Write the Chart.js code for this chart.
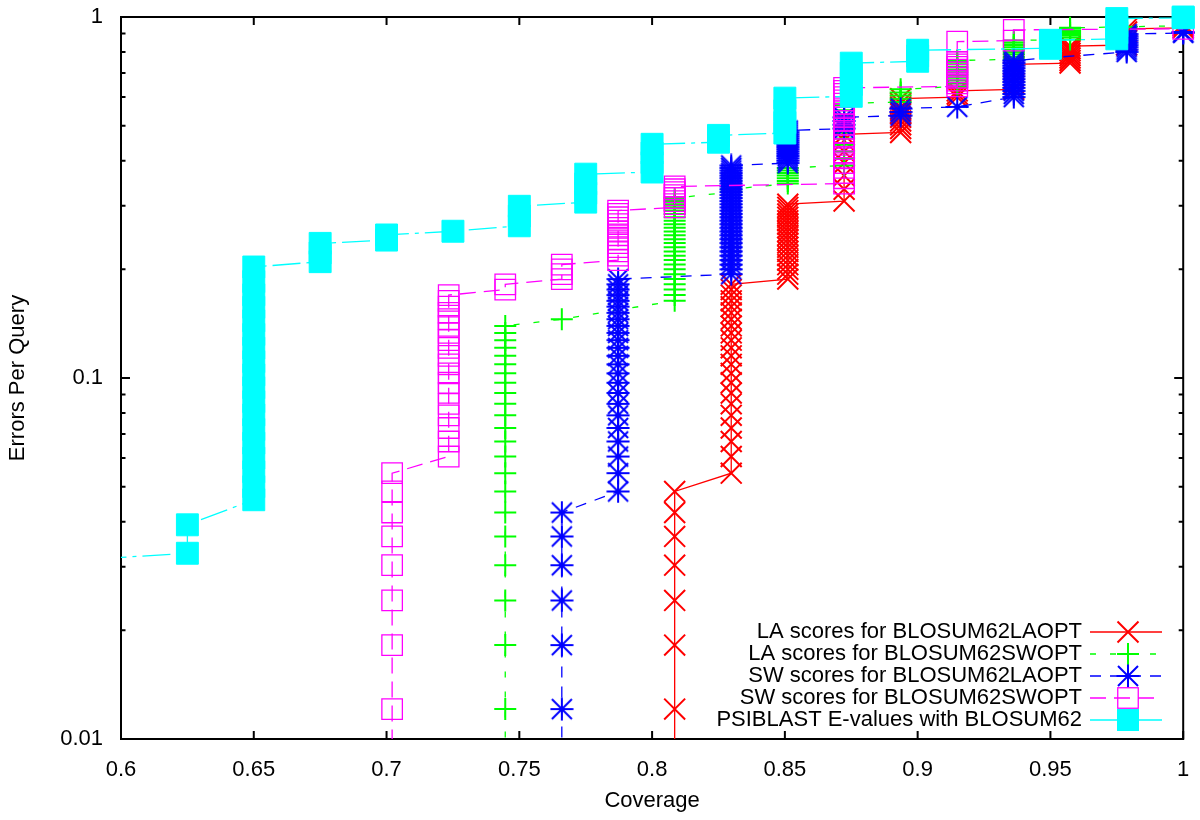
<!DOCTYPE html>
<html lang="en">
<head>
<meta charset="UTF-8">
<title>Errors Per Query vs Coverage</title>
<script src="https://cdn.jsdelivr.net/npm/chart.js"></script>
<style>
  body { margin: 0; background: #fff; }
  canvas { display: block; }
</style>
</head>
<body>
<canvas id="coverageChart" width="1200" height="820"></canvas>
<script>
// axis labels
const xTickLabels = ['0.6', '0.65', '0.7', '0.75', '0.8', '0.85', '0.9', '0.95', '1'];
const yMajorTicks = [0.01, 0.1, 1];
const yTickLabels = ['0.01', '0.1', '1'];

const seriesNames = [
  'LA scores for BLOSUM62LAOPT',
  'LA scores for BLOSUM62SWOPT',
  'SW scores for BLOSUM62LAOPT',
  'SW scores for BLOSUM62SWOPT',
  'PSIBLAST E-values with BLOSUM62'
];

// each series: coverage columns, and the errors-per-query values found at each column
const laLaoptCoverage = [0.8085, 0.8298, 0.8511, 0.8723, 0.8936, 0.9149, 0.9362, 0.9574, 0.9787, 1.0];
const laLaoptErrors = [
  [0.00606, 0.0121, 0.0182, 0.0242, 0.0303, 0.0364, 0.0424, 0.0485],
  [0.0545, 0.0606, 0.0667, 0.0727, 0.0788, 0.0848, 0.0909, 0.0970, 0.1030, 0.1091, 0.1152, 0.1212, 0.1273, 0.1333, 0.1394, 0.1455, 0.1515, 0.1576, 0.1636, 0.1697, 0.1758, 0.1818],
  [0.1879, 0.1939, 0.2000, 0.2061, 0.2121, 0.2182, 0.2242, 0.2303, 0.2364, 0.2424, 0.2485, 0.2545, 0.2606, 0.2667, 0.2727, 0.2788, 0.2848, 0.2909, 0.2970, 0.3030],
  [0.3091, 0.3333, 0.3636, 0.3939, 0.4242, 0.4545, 0.4727],
  [0.4788, 0.4909, 0.5030, 0.5152, 0.5273, 0.5394, 0.5515, 0.5636, 0.5758, 0.5939],
  [0.6000, 0.6121, 0.6242],
  [0.6303, 0.6545, 0.6788, 0.7030, 0.7273, 0.7394],
  [0.7455, 0.7576, 0.7697, 0.7818, 0.7939, 0.8061, 0.8182, 0.8303],
  [0.8364, 0.8606, 0.8848, 0.9091, 0.9273],
  [0.9333, 0.9455, 0.9576]
];

const laSwoptCoverage = [0.7447, 0.7660, 0.8085, 0.8298, 0.8511, 0.8723, 0.8936, 0.9149, 0.9362, 0.9574, 0.9787, 1.0];
const laSwoptErrors = [
  [0.00606, 0.0121, 0.0182, 0.0242, 0.0303, 0.0364, 0.0424, 0.0485, 0.0545, 0.0606, 0.0667, 0.0727, 0.0788, 0.0848, 0.0909, 0.0970, 0.1030, 0.1091, 0.1152, 0.1212, 0.1273, 0.1333, 0.1394],
  [0.1455],
  [0.1636, 0.1697, 0.1758, 0.1818, 0.1879, 0.1939, 0.2000, 0.2061, 0.2121, 0.2182, 0.2242, 0.2303, 0.2364, 0.2424, 0.2485, 0.2545, 0.2606, 0.2667, 0.2727, 0.2788, 0.2848, 0.2909, 0.2970, 0.3030, 0.3091, 0.3152],
  [0.3273, 0.3333],
  [0.3455, 0.3515, 0.3576, 0.3636, 0.3697, 0.3758, 0.3818],
  [0.3879, 0.4061, 0.4242, 0.4424, 0.4606, 0.4788, 0.4970, 0.5152, 0.5333, 0.5515, 0.5697, 0.5758],
  [0.5818, 0.5939, 0.6061, 0.6182, 0.6303],
  [0.6424, 0.6545, 0.6667, 0.6788, 0.6909, 0.7030, 0.7152, 0.7273, 0.7394, 0.7515, 0.7576],
  [0.7636, 0.7758, 0.7879, 0.8000, 0.8121, 0.8242, 0.8364, 0.8485, 0.8606],
  [0.8667, 0.8788, 0.8909, 0.9030, 0.9152, 0.9273, 0.9333],
  [0.9394],
  [0.9455]
];

const swLaoptCoverage = [0.7660, 0.7872, 0.8298, 0.8511, 0.8723, 0.8936, 0.9149, 0.9362, 0.9787, 1.0];
const swLaoptErrors = [
  [0.00606, 0.0121, 0.0182, 0.0242, 0.0303, 0.0364, 0.0424],
  [0.0485, 0.0545, 0.0606, 0.0667, 0.0727, 0.0788, 0.0848, 0.0909, 0.0970, 0.1030, 0.1091, 0.1152, 0.1212, 0.1273, 0.1333, 0.1394, 0.1455, 0.1515, 0.1576, 0.1636, 0.1697, 0.1758, 0.1818, 0.1879],
  [0.1939, 0.2000, 0.2061, 0.2121, 0.2182, 0.2242, 0.2303, 0.2364, 0.2424, 0.2485, 0.2545, 0.2606, 0.2667, 0.2727, 0.2788, 0.2848, 0.2909, 0.2970, 0.3030, 0.3091, 0.3152, 0.3212, 0.3273, 0.3333, 0.3394, 0.3455, 0.3515, 0.3576, 0.3636, 0.3697, 0.3758, 0.3818, 0.3879],
  [0.3939, 0.4000, 0.4061, 0.4121, 0.4182, 0.4242, 0.4303, 0.4364, 0.4424, 0.4485, 0.4545, 0.4606, 0.4667, 0.4727, 0.4788, 0.4848],
  [0.4909, 0.5030, 0.5152, 0.5273],
  [0.5333, 0.5455, 0.5576],
  [0.5636],
  [0.6000, 0.6121, 0.6242, 0.6364, 0.6485, 0.6606, 0.6727, 0.6848, 0.6970, 0.7091, 0.7212, 0.7333, 0.7455, 0.7576],
  [0.8000, 0.8121, 0.8242, 0.8364, 0.8485, 0.8606, 0.8727, 0.8848, 0.8970],
  [0.9030, 0.9091]
];

const swSwoptCoverage = [0.7021, 0.7234, 0.7447, 0.7660, 0.7872, 0.8085, 0.8723, 0.9149, 0.9362, 1.0];
const swSwoptErrors = [
  [0.00606, 0.0121, 0.0182, 0.0242, 0.0303, 0.0364, 0.0424, 0.0485, 0.0545],
  [0.0606, 0.0667, 0.0727, 0.0788, 0.0848, 0.0909, 0.0970, 0.1030, 0.1091, 0.1152, 0.1212, 0.1273, 0.1333, 0.1394, 0.1455, 0.1515, 0.1576, 0.1636, 0.1697],
  [0.1758, 0.1818],
  [0.1879, 0.1939, 0.2000, 0.2061],
  [0.2121, 0.2182, 0.2242, 0.2303, 0.2364, 0.2424, 0.2485, 0.2545, 0.2606, 0.2667, 0.2727, 0.2788, 0.2848, 0.2909],
  [0.2970, 0.3030, 0.3091, 0.3152, 0.3212, 0.3273, 0.3333, 0.3394],
  [0.3455, 0.3576, 0.3697, 0.3818, 0.3939, 0.4061, 0.4182, 0.4303, 0.4424, 0.4545, 0.4667, 0.4788, 0.4909, 0.5030, 0.5152, 0.5273, 0.5394, 0.5515, 0.5636, 0.5758, 0.5879, 0.6000, 0.6121, 0.6242, 0.6364],
  [0.6424, 0.6545, 0.6667, 0.6788, 0.6909, 0.7030, 0.7152, 0.7273, 0.7394, 0.7515, 0.8545],
  [0.8606, 0.9212],
  [0.9273]
];

const psiblastCoverage = [0.575, 0.625, 0.65, 0.675, 0.7, 0.725, 0.75, 0.775, 0.8, 0.825, 0.85, 0.875, 0.9, 0.95, 0.975, 1.0];
const psiblastErrors = [
  [0.031],
  [0.0327, 0.0392],
  [0.046, 0.050, 0.055, 0.060, 0.066, 0.072, 0.079, 0.086, 0.094, 0.102, 0.111, 0.121, 0.132, 0.144, 0.157, 0.170, 0.185, 0.203],
  [0.210, 0.222, 0.236],
  [0.241, 0.249],
  [0.255],
  [0.264, 0.281, 0.299],
  [0.307, 0.325, 0.345, 0.367],
  [0.372, 0.395, 0.420, 0.444],
  [0.450, 0.470],
  [0.477, 0.510, 0.550, 0.596],
  [0.603, 0.650, 0.700, 0.745],
  [0.754, 0.780, 0.809],
  [0.819, 0.840, 0.862],
  [0.870, 0.905, 0.945, 0.990],
  [0.995, 1.0]
];

function toPoints(coverage, errors) {
  const pts = [];
  coverage.forEach((x, i) => {
    errors[i].forEach(y => pts.push({ x: x, y: y }));
  });
  return pts;
}

// gnuplot style asterisk (+ and x on top of each other)
function makeAsterisk(color) {
  const c = document.createElement('canvas');
  c.width = 24;
  c.height = 24;
  const g = c.getContext('2d');
  g.strokeStyle = color;
  g.lineWidth = 2;
  g.beginPath();
  g.moveTo(12, 0.5); g.lineTo(12, 23.5);
  g.moveTo(0.5, 12); g.lineTo(23.5, 12);
  g.moveTo(2, 2); g.lineTo(22, 22);
  g.moveTo(22, 2); g.lineTo(2, 22);
  g.stroke();
  return c;
}
const asterisk = makeAsterisk('#0000ff');

const FONT = "'Liberation Sans', Arial, Helvetica, sans-serif";
const plotClip = { left: 0, top: 14, right: 14, bottom: 0 };

const datasets = [
  {
    label: seriesNames[0], data: toPoints(laLaoptCoverage, laLaoptErrors), order: 5,
    borderColor: '#ff0000', borderWidth: 1.3, borderDash: [],
    pointStyle: 'crossRot', pointRadius: 14.8, pointBorderWidth: 2,
    pointBorderColor: '#ff0000', pointBackgroundColor: '#ff0000', marker: 'x'
  },
  {
    label: seriesNames[1], data: toPoints(laSwoptCoverage, laSwoptErrors), order: 4,
    borderColor: '#00ff00', borderWidth: 1.3, borderDash: [6, 14],
    pointStyle: 'cross', pointRadius: 11, pointBorderWidth: 2,
    pointBorderColor: '#00ff00', pointBackgroundColor: '#00ff00', marker: '+'
  },
  {
    label: seriesNames[2], data: toPoints(swLaoptCoverage, swLaoptErrors), order: 3,
    borderColor: '#0000ff', borderWidth: 1.3, borderDash: [11, 9],
    pointStyle: asterisk, pointRadius: 12, pointBorderWidth: 2,
    pointBorderColor: '#0000ff', pointBackgroundColor: '#0000ff', marker: '*'
  },
  {
    label: seriesNames[3], data: toPoints(swSwoptCoverage, swSwoptErrors), order: 2,
    borderColor: '#ff00ff', borderWidth: 1.3, borderDash: [16, 8],
    pointStyle: 'rect', pointRadius: 14.5, pointBorderWidth: 1.3,
    pointBorderColor: '#ff00ff', pointBackgroundColor: 'rgba(0,0,0,0)', marker: 'box'
  },
  {
    label: seriesNames[4], data: toPoints(psiblastCoverage, psiblastErrors), order: 1,
    borderColor: '#00ffff', borderWidth: 1.3, borderDash: [28, 6, 4, 6],
    pointStyle: 'rect', pointRadius: 15.5, pointBorderWidth: 1,
    pointBorderColor: '#00ffff', pointBackgroundColor: '#00ffff', marker: 'fbox'
  }
].map(d => Object.assign(d, { showLine: true, tension: 0, clip: plotClip, pointHoverRadius: d.pointRadius }));

function drawMarker(ctx, ds, x, y) {
  ctx.save();
  ctx.setLineDash([]);
  ctx.strokeStyle = ds.pointBorderColor;
  ctx.fillStyle = ds.pointBorderColor;
  ctx.lineWidth = 2;
  ctx.beginPath();
  if (ds.marker === 'x') {
    ctx.moveTo(x - 10.5, y - 10.5); ctx.lineTo(x + 10.5, y + 10.5);
    ctx.moveTo(x + 10.5, y - 10.5); ctx.lineTo(x - 10.5, y + 10.5);
    ctx.stroke();
  } else if (ds.marker === '+') {
    ctx.moveTo(x - 11, y); ctx.lineTo(x + 11, y);
    ctx.moveTo(x, y - 11); ctx.lineTo(x, y + 11);
    ctx.stroke();
  } else if (ds.marker === '*') {
    ctx.drawImage(asterisk, x - 12, y - 12);
  } else if (ds.marker === 'box') {
    ctx.lineWidth = 1.3;
    ctx.strokeRect(x - 10.25, y - 10.25, 20.5, 20.5);
  } else {
    ctx.fillRect(x - 11, y - 11, 22, 22);
  }
  ctx.restore();
}

// border, inward tick marks (mirrored) and the key, gnuplot style
const gnuplotFrame = {
  id: 'gnuplotFrame',
  beforeDatasetsDraw(chart) {
    const { ctx, chartArea: a } = chart;
    const xs = chart.scales.x, ys = chart.scales.y;
    ctx.save();
    ctx.strokeStyle = '#000';
    ctx.lineWidth = 2;
    ctx.beginPath();
    xs.ticks.forEach(t => {
      const px = xs.getPixelForValue(t.value);
      ctx.moveTo(px, a.bottom); ctx.lineTo(px, a.bottom - 8);
      ctx.moveTo(px, a.top); ctx.lineTo(px, a.top + 8);
    });
    yMajorTicks.forEach((v, i) => {
      const py = ys.getPixelForValue(v);
      ctx.moveTo(a.left, py); ctx.lineTo(a.left + 9, py);
      ctx.moveTo(a.right, py); ctx.lineTo(a.right - 9, py);
      if (i < yMajorTicks.length - 1) {
        for (let m = 2; m <= 9; m++) {
          const pm = ys.getPixelForValue(v * m);
          ctx.moveTo(a.left, pm); ctx.lineTo(a.left + 4.5, pm);
          ctx.moveTo(a.right, pm); ctx.lineTo(a.right - 4.5, pm);
        }
      }
    });
    ctx.stroke();
    ctx.strokeRect(a.left, a.top, a.right - a.left, a.bottom - a.top);
    ctx.restore();
  },
  afterDraw(chart) {
    const ctx = chart.ctx;
    ctx.save();
    ctx.font = '22px ' + FONT;
    ctx.fillStyle = '#000';
    ctx.textAlign = 'right';
    ctx.textBaseline = 'middle';
    chart.data.datasets.forEach((ds, i) => {
      const y = 632 + i * 22;
      ctx.fillText(ds.label, 1082, y);
      ctx.save();
      ctx.strokeStyle = ds.borderColor;
      ctx.lineWidth = ds.borderWidth;
      ctx.setLineDash(ds.borderDash);
      ctx.beginPath();
      ctx.moveTo(1090, y); ctx.lineTo(1162, y);
      ctx.stroke();
      ctx.restore();
      drawMarker(ctx, ds, 1128, y);
    });
    ctx.restore();
  }
};

Chart.defaults.font.family = FONT;
Chart.defaults.font.size = 22;
Chart.defaults.color = '#000';

new Chart(document.getElementById('coverageChart').getContext('2d'), {
  type: 'scatter',
  data: { datasets: datasets },
  options: {
    responsive: false,
    animation: false,
    devicePixelRatio: 1,
    events: [],
    layout: { padding: { left: 0, right: 12, top: 17, bottom: 0 } },
    plugins: { legend: { display: false }, tooltip: { enabled: false } },
    scales: {
      x: {
        type: 'linear', min: 0.6, max: 1,
        grid: { display: false, drawTicks: false },
        border: { display: false },
        ticks: {
          stepSize: 0.05, autoSkip: false, maxRotation: 0, padding: 18,
          callback: (v, i) => xTickLabels[i]
        },
        title: { display: true, text: 'Coverage', padding: { top: 0, bottom: 6 } },
        afterFit: s => { s.height = 81; s.paddingLeft = 0; s.paddingRight = 0; }
      },
      y: {
        type: 'logarithmic', min: 0.01, max: 1,
        grid: { display: false, drawTicks: false },
        border: { display: false },
        ticks: {
          autoSkip: false, padding: 18,
          callback: v => {
            const i = yMajorTicks.findIndex(m => Math.abs(m - v) < m * 1e-6);
            return i >= 0 ? yTickLabels[i] : '';
          }
        },
        title: { display: true, text: 'Errors Per Query', padding: { top: 5, bottom: 0 } },
        afterFit: s => { s.width = 121; s.paddingTop = 0; s.paddingBottom = 0; }
      }
    }
  },
  plugins: [gnuplotFrame]
});
</script>
</body>
</html>
